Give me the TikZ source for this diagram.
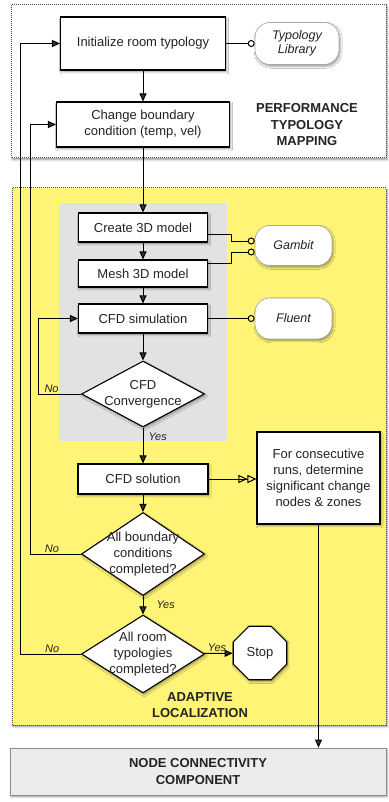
\documentclass[tikz,border=0pt]{standalone}
\usepackage{fontspec}
\setmainfont{Liberation Sans}
\usepackage{tikz}
\usetikzlibrary{arrows.meta}
\usetikzlibrary{shapes.geometric}
\usetikzlibrary{shadows.blur}
\definecolor{areayellow}{RGB}{255,244,118}
\definecolor{panelgray}{RGB}{226,226,226}
\definecolor{nccgray}{RGB}{236,236,236}
\definecolor{inkgray}{RGB}{35,35,35}

\begin{document}
\begin{tikzpicture}[x=1pt,y=-1pt,
  every node/.style={text=inkgray,font=\fontsize{13}{16}\selectfont},
  softshadow/.style={blur shadow={shadow xshift=1.2pt,shadow yshift=-1.8pt,shadow blur radius=2pt,shadow opacity=40}},
  stepbox/.style={draw=black,line width=1.1pt,fill=white,align=center,inner sep=0pt,softshadow},
  query/.style={diamond,aspect=1.5,draw=black,line width=1.1pt,fill=white,align=center,inner sep=-4pt,softshadow},
  stopsign/.style={regular polygon,regular polygon sides=8,minimum size=58pt,draw=black,line width=1.1pt,fill=white,inner sep=0pt,softshadow},
  tool/.style={draw=black!35,line width=0.6pt,fill=white,rounded corners=15pt,align=center,softshadow,font=\itshape\fontsize{12.5}{14.5}\selectfont},
  heading/.style={align=center,font=\bfseries\fontsize{13}{16.5}\selectfont},
  lbl/.style={inner sep=1pt,font=\itshape\fontsize{11}{13}\selectfont},
  flow/.style={line width=1pt,-{Triangle[length=8pt,width=7pt]}},
  link/.style={line width=1pt,-{Circle[open,length=7pt,width=7pt]}},
  region/.style={densely dotted,line width=1pt,draw=black!70,softshadow}]
\useasboundingbox (0,0) rectangle (388,802);

% areas
\draw[region,fill=white] (11,5) rectangle (386,158);
\draw[region,fill=areayellow] (12,188) rectangle (386,725);
\fill[panelgray] (59,203) rectangle (227,441);

% performance typology mapping
\node[stepbox,minimum width=165pt,minimum height=53pt] (init) at (143,43.5) {Initialize room typology};
\node[tool,minimum width=84pt,minimum height=42pt] (typlib) at (297,43.5) {Typology\\Library};
\node[stepbox,minimum width=173pt,minimum height=45pt] (bcond) at (143,124.5) {Change boundary\\condition (temp, vel)};
\node[heading] (ptm) at (307,125) {PERFORMANCE\\TYPOLOGY\\MAPPING};

% adaptive localization
\node[stepbox,minimum width=129pt,minimum height=29pt] (create) at (143,227.5) {Create 3D model};
\node[stepbox,minimum width=129pt,minimum height=27pt] (mesh) at (143,273.5) {Mesh 3D model};
\node[stepbox,minimum width=129pt,minimum height=29pt] (cfdsim) at (143,318.5) {CFD simulation};
\node[tool,minimum width=77pt,minimum height=40pt] (gambit) at (293.5,245.5) {Gambit};
\node[tool,minimum width=77pt,minimum height=41pt] (fluent) at (293.5,318.5) {Fluent};
\node[query,minimum width=123pt,minimum height=64pt] (conv) at (143,394) {CFD\\Convergence};
\node[stepbox,minimum width=130pt,minimum height=30pt] (cfdsol) at (143,479) {CFD solution};
\node[stepbox,minimum width=123pt,minimum height=92pt] (runs) at (318.5,478) {For consecutive\\runs, determine\\significant change\\nodes \& zones};
\node[query,minimum width=123pt,minimum height=83pt] (bnddone) at (143,554) {All boundary\\conditions\\completed?};
\node[query,minimum width=123pt,minimum height=78pt] (roomdone) at (143,654) {All room\\typologies\\completed?};
\node[stopsign] (stop) at (260,653) {Stop};
\node[heading] (adapt) at (200,705) {ADAPTIVE\\LOCALIZATION};

% node connectivity
\node[draw=black!45,line width=0.8pt,fill=nccgray,minimum width=376pt,minimum height=47pt,heading,softshadow] (ncc) at (198,771.5) {NODE CONNECTIVITY\\COMPONENT};

% connectors
\draw[flow] (init) -- (bcond);
\draw[link] (init) -- (typlib);
\draw[flow] (bcond) -- (create);
\draw[flow] (create) -- (mesh);
\draw[flow] (mesh) -- (cfdsim);
\draw[flow] (cfdsim) -- (conv);
\draw[link] ([yshift=-7pt]create.east) -- ++(23,0) |- ([yshift=4.5pt]gambit.west);
\draw[link] ([yshift=10pt]mesh.east) -- ++(23,0) |- ([yshift=-6.5pt]gambit.west);
\draw[link] (cfdsim) -- (fluent);
\draw[flow] (conv) -- node[lbl,right,pos=0.25,xshift=4pt] (convyes) {Yes} (cfdsol);
\draw[line width=1pt,-{Triangle[open,length=9pt,width=8pt]Triangle[open,length=9pt,width=8pt]}] (cfdsol.east) -- (cfdsol.east -| runs.west);
\draw[flow] (cfdsol) -- (bnddone);
\draw[flow] (bnddone) -- node[lbl,right,xshift=12pt] (bndyes) {Yes} (roomdone);
\draw[flow] (roomdone) -- node[lbl,above,pos=0.45] (roomyes) {Yes} (stop);
\draw[flow] (conv.west) -- node[lbl,above,pos=0.7] (convno) {No} ++(-42,0) |- (cfdsim.west);
\draw[flow] (bnddone.west) -- node[lbl,above,pos=0.58] (bndno) {No} ++(-50,0) |- (bcond.west);
\draw[flow] (roomdone.west) -- node[lbl,above,pos=0.48] (roomno) {No} ++(-60,0) |- (init.west);
\draw[flow] (runs.south) -- (runs.south |- ncc.north);
\end{tikzpicture}
\end{document}
